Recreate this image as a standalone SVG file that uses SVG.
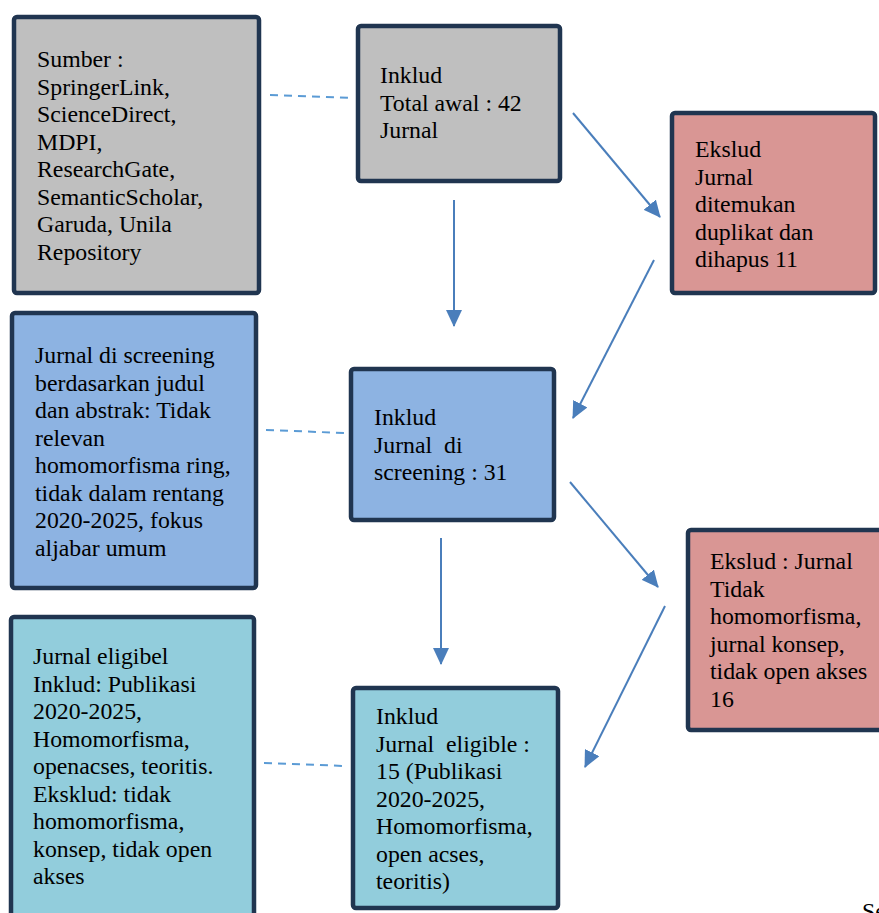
<svg xmlns="http://www.w3.org/2000/svg" width="879" height="913" viewBox="0 0 879 913">
<defs>
<marker id="ah" markerUnits="userSpaceOnUse" markerWidth="18" markerHeight="16" refX="16" refY="8" orient="auto">
<path d="M0,0 L17,8 L0,16 Z" fill="#4A7EBB"/>
</marker>
<style>
.box{stroke:#203550;stroke-width:4.5}
.gray{fill:#BFBFBF}
.pink{fill:#D99694}
.blue{fill:#8DB3E2}
.teal{fill:#92CDDC}
text{font-family:"Liberation Serif","Times New Roman",serif;font-size:23.8px;fill:#000}
.arr{stroke:#4A7EBB;stroke-width:2;fill:none;marker-end:url(#ah)}
.dash{stroke:#5B9BD5;stroke-width:2;stroke-dasharray:8,6;fill:none}
</style>
</defs>
<rect width="879" height="913" fill="#fff"/>
<g id="connectors">
<line class="dash" x1="270" y1="95" x2="352" y2="98"/>
<line class="dash" x1="266" y1="430" x2="345" y2="433"/>
<line class="dash" x1="264" y1="763" x2="345" y2="766"/>
<line class="arr" x1="573" y1="113" x2="660" y2="217"/>
<line class="arr" x1="654" y1="260" x2="573" y2="418"/>
<line class="arr" x1="454" y1="200" x2="454" y2="326"/>
<line class="arr" x1="570" y1="482" x2="658" y2="587"/>
<line class="arr" x1="665" y1="606" x2="585" y2="767"/>
<line class="arr" x1="441" y1="538" x2="441" y2="664"/>
</g>
<g id="sumber">
<rect class="box gray" x="14" y="17" width="245" height="276" rx="3"/>
<text x="37" y="67">Sumber :</text>
<text x="37" y="94.5">SpringerLink,</text>
<text x="37" y="122">ScienceDirect,</text>
<text x="37" y="149.5">MDPI,</text>
<text x="37" y="177">ResearchGate,</text>
<text x="37" y="204.5">SemanticScholar,</text>
<text x="37" y="232">Garuda, Unila</text>
<text x="37" y="259.5">Repository</text>
</g>
<g id="inklud1">
<rect class="box gray" x="358" y="26" width="202" height="155" rx="3"/>
<text x="380" y="83">Inklud</text>
<text x="380" y="110.5">Total awal : 42</text>
<text x="380" y="138">Jurnal</text>
</g>
<g id="ekslud1">
<rect class="box pink" x="672" y="113" width="203" height="180" rx="3"/>
<text x="695" y="157">Ekslud</text>
<text x="695" y="184.5">Jurnal</text>
<text x="695" y="212">ditemukan</text>
<text x="695" y="239.5">duplikat dan</text>
<text x="695" y="267">dihapus 11</text>
</g>
<g id="screening-note">
<rect class="box blue" x="12" y="313" width="244" height="275" rx="3"/>
<text x="35" y="363">Jurnal di screening</text>
<text x="35" y="390.5">berdasarkan judul</text>
<text x="35" y="418">dan abstrak: Tidak</text>
<text x="35" y="445.5">relevan</text>
<text x="35" y="473">homomorfisma ring,</text>
<text x="35" y="500.5">tidak dalam rentang</text>
<text x="35" y="528">2020-2025, fokus</text>
<text x="35" y="555.5">aljabar umum</text>
</g>
<g id="inklud2">
<rect class="box blue" x="351" y="369" width="203" height="151" rx="3"/>
<text x="374" y="425">Inklud</text>
<text x="374" y="452.5" xml:space="preserve">Jurnal  di</text>
<text x="374" y="480">screening : 31</text>
</g>
<g id="ekslud2">
<rect class="box pink" x="688" y="530" width="210" height="200" rx="3"/>
<text x="710" y="569">Ekslud : Jurnal</text>
<text x="710" y="596.5">Tidak</text>
<text x="710" y="624">homomorfisma,</text>
<text x="710" y="651.5">jurnal konsep,</text>
<text x="710" y="679">tidak open akses</text>
<text x="710" y="706.5">16</text>
</g>
<g id="eligible-note">
<rect class="box teal" x="11" y="617" width="243" height="310" rx="3"/>
<text x="33" y="664">Jurnal eligibel</text>
<text x="33" y="691.5">Inklud: Publikasi</text>
<text x="33" y="719">2020-2025,</text>
<text x="33" y="746.5">Homomorfisma,</text>
<text x="33" y="774">openacses, teoritis.</text>
<text x="33" y="801.5">Eksklud: tidak</text>
<text x="33" y="829">homomorfisma,</text>
<text x="33" y="856.5">konsep, tidak open</text>
<text x="33" y="884">akses</text>
</g>
<g id="inklud3">
<rect class="box teal" x="353" y="688" width="205" height="220" rx="3"/>
<text x="376" y="724">Inklud</text>
<text x="376" y="751.5" xml:space="preserve">Jurnal  eligible :</text>
<text x="376" y="779">15 (Publikasi</text>
<text x="376" y="806.5">2020-2025,</text>
<text x="376" y="834">Homomorfisma,</text>
<text x="376" y="861.5">open acses,</text>
<text x="376" y="889">teoritis)</text>
</g>
<text x="862" y="919">Se</text>
</svg>
